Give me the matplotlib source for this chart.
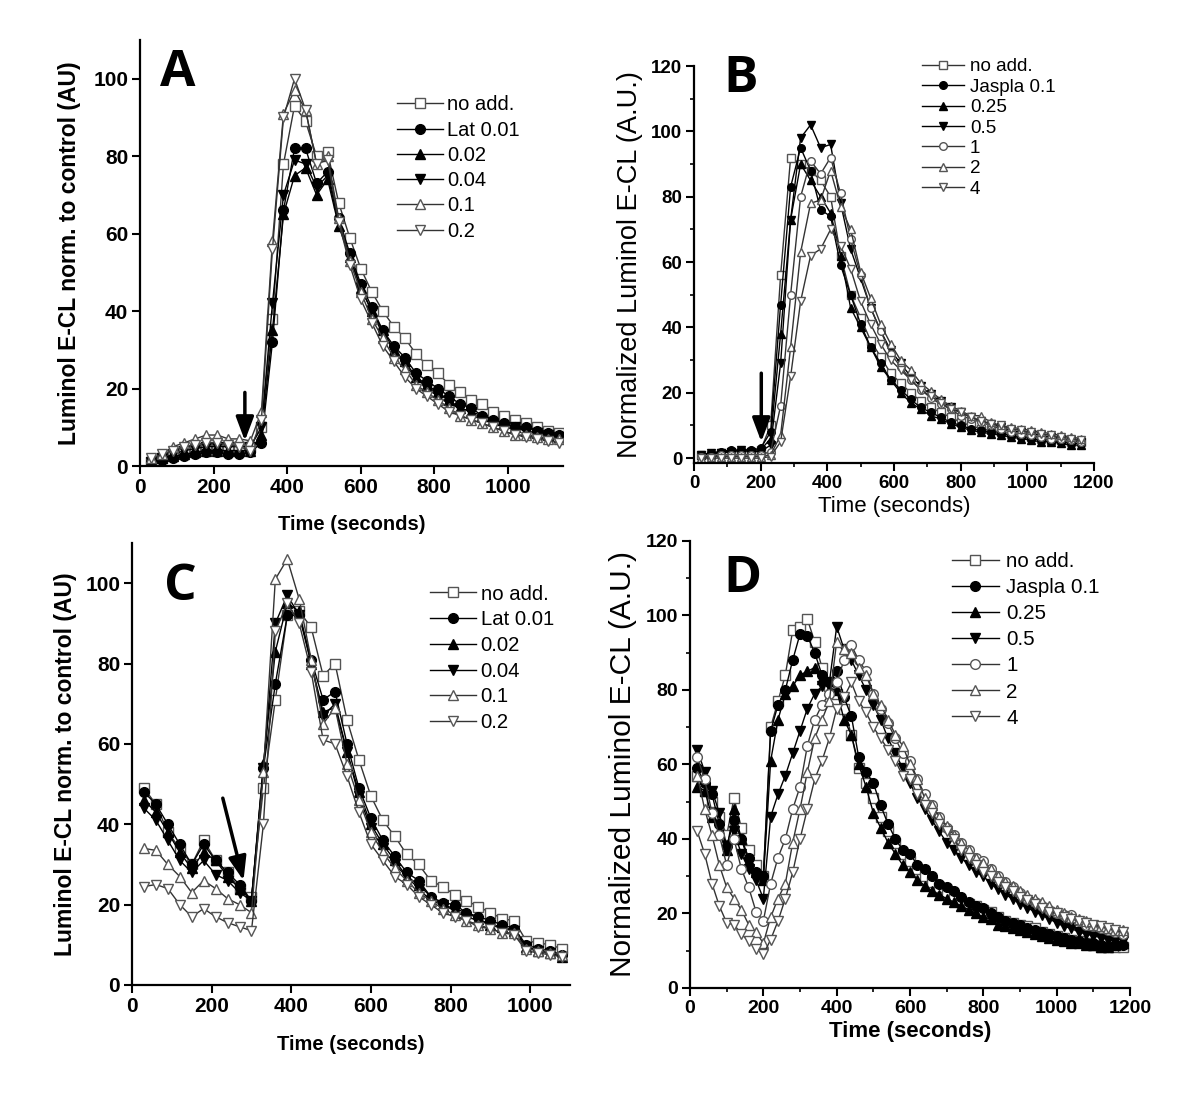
import matplotlib
matplotlib.use("Agg")
import matplotlib.pyplot as plt
from matplotlib.ticker import MultipleLocator

plt.rcParams['font.family'] = ['Liberation Sans', 'DejaVu Sans']

# ---------------- panel A: latrunculin, normalised to control ----------------
a_time = [30, 60, 90, 120, 150, 180, 210, 240, 270, 300,
          330, 360, 390, 420, 450, 480, 510, 540, 570, 600,
          630, 660, 690, 720, 750, 780, 810, 840, 870, 900,
          930, 960, 990, 1020, 1050, 1080, 1110, 1140]
a_noadd = [1, 2, 3, 4, 4, 5, 5, 5, 5, 5,
           10, 38, 78, 93, 89, 80, 81, 68, 59, 51,
           45, 40, 36, 33, 29, 26, 24, 21, 19, 17,
           16, 14, 13, 12, 11, 10, 9, 8.5]
a_lat001 = [1, 1.5, 2, 2.5, 3, 3.5, 3.5, 3, 3, 3.5,
            6, 32, 66, 82, 82, 73, 76, 64, 55, 47,
            41, 35, 31, 28, 24, 22, 20, 18, 16, 15,
            13, 12, 11, 10, 10, 9, 8.5, 8]
a_lat002 = [1, 2, 2.5, 3, 3.5, 4, 4, 4, 4, 4,
            8, 35, 65, 75, 77, 70, 74, 62, 54, 46,
            40, 35, 30, 27, 23, 21, 19, 17, 15, 14,
            13, 12, 11, 10, 9, 8.5, 8, 7.5]
a_lat004 = [1, 2, 3, 4, 4.5, 5, 5, 5, 5, 5,
            10, 42, 70, 79, 78, 72, 75, 63, 54, 46,
            40, 34, 30, 26, 23, 20, 18, 16, 15, 14,
            12, 11, 10, 10, 9, 8.5, 8, 7.5]
a_lat01 = [2, 3, 5, 6, 7, 8, 8, 7, 7, 6.5,
           14, 58, 91, 97, 92, 78, 80, 64, 53, 45,
           38, 33, 28, 25, 21, 19, 17, 15, 13, 12,
           11, 10, 9, 8, 8, 7.5, 7, 7]
a_lat02 = [2, 3, 4, 5, 5.5, 6, 6, 5.5, 5, 4,
           12, 56, 90, 100, 92, 78, 79, 63, 52, 43,
           37, 31, 27, 23, 20, 18, 16, 14, 13, 12,
           11, 10, 9, 8, 7.5, 7, 6.5, 6]
lat_labels = ['no add.', 'Lat 0.01', '0.02', '0.04', '0.1', '0.2']

# ---------------- panel B: jasplakinolide ----------------
b_time = [20, 50, 80, 110, 140, 170, 200, 230, 260, 290,
          320, 350, 380, 410, 440, 470, 500, 530, 560, 590,
          620, 650, 680, 710, 740, 770, 800, 830, 860, 890,
          920, 950, 980, 1010, 1040, 1070, 1100, 1130, 1160]
b_noadd = [1, 1, 1.5, 2, 2, 2, 2.5, 10, 56, 92,
           90, 88, 85, 80, 62, 50, 43, 36, 31, 26,
           23, 20, 17.5, 15.5, 14, 12.5, 11, 10, 9, 8.5,
           8, 7.5, 7, 6.5, 6, 5.5, 5.5, 5, 5]
b_jas01 = [1, 1.5, 2, 2.5, 2.5, 2.5, 3, 8, 47, 83,
           95, 88, 76, 74, 59, 50, 41, 34, 29, 24,
           21, 18, 15.5, 14, 12.5, 11, 10, 9, 8.5, 8,
           7.5, 7, 6.5, 6, 5.5, 5, 5, 4.5, 4.5]
b_jas025 = [1, 1.5, 2, 2, 2.5, 2.5, 2.5, 6, 38, 73,
            90, 85, 80, 75, 62, 46, 40, 34, 28, 24,
            20, 17, 15, 13, 12, 10.5, 9.5, 8.5, 8, 7.5,
            7, 6.5, 6, 5.5, 5, 5, 4.5, 4, 4]
b_jas05 = [1, 1.5, 1.5, 2, 2.5, 2, 2, 4, 29, 73,
           98, 102, 95, 96, 78, 64, 55, 46, 39, 33,
           29, 25, 22, 19.5, 17.5, 15.5, 14, 12.5, 11.5, 10.5,
           9.5, 8.5, 8, 7.5, 7, 6.5, 6, 5.5, 5]
b_jas1 = [0.5, 0.5, 1, 1, 1, 1, 1, 2, 16, 50,
          80, 91, 87, 92, 81, 67, 56, 46, 39, 32,
          28, 24, 21, 18.5, 16.5, 15, 13, 12, 11, 10,
          9, 8, 7.5, 7, 6.5, 6, 6, 5.5, 5]
b_jas2 = [0, 0.5, 0.5, 0.5, 0.5, 0.5, 0.5, 1, 7, 34,
          63, 78, 79, 88, 77, 70, 57, 49, 41, 35,
          30, 27, 23, 20.5, 18, 16, 14.5, 13, 13, 11,
          10, 9.5, 9, 8.5, 8, 7.5, 7, 6.5, 6]
b_jas4 = [0, 0, 0, 0, 0, 0, 0, 0.5, 5, 25,
          48, 62, 64, 70, 65, 58, 48, 41, 35, 30,
          27, 24, 21, 19, 17, 15, 14, 12.5, 11.5, 10.5,
          10, 9, 8.5, 8, 7.5, 7, 6.5, 6, 5.5]
jas_labels = ['no add.', 'Jaspla 0.1', '0.25', '0.5', '1', '2', '4']

# ---------------- panel C: latrunculin, second protocol ----------------
c_time = [30, 60, 90, 120, 150, 180, 210, 240, 270, 300,
          330, 360, 390, 420, 450, 480, 510, 540, 570, 600,
          630, 660, 690, 720, 750, 780, 810, 840, 870, 900,
          930, 960, 990, 1020, 1050, 1080]
c_noadd = [49, 45, 38, 34, 30, 36, 31, 28, 24, 22,
           49, 71, 92, 93, 89, 77, 80, 66, 56, 47,
           41, 37, 32.5, 30, 26, 24.5, 22.5, 21, 19.5, 18,
           16.5, 16, 11, 10.5, 10, 9]
c_lat001 = [48, 45, 40, 35, 30, 35, 31, 28, 25, 21,
            54, 75, 92, 92, 81, 71, 73, 60, 49, 41.5,
            36, 32, 28, 26, 22, 20.5, 20, 18, 17, 16,
            15, 14, 10, 9, 8.5, 7.5]
c_lat002 = [46, 43, 38, 33, 29, 33, 31, 27, 24, 21,
            55, 83, 95, 93, 80, 68, 69, 58, 48, 40,
            35, 31, 27, 25, 22, 20, 19, 18, 16.5, 15,
            14.5, 13.5, 9.5, 8.5, 8, 7]
c_lat004 = [44, 41, 36, 31, 28, 31, 27.5, 26, 23, 21,
            54, 90, 97, 92, 80, 67, 70, 58, 47, 39,
            34, 30, 27, 24, 21, 20, 18.5, 17, 16, 15,
            14, 13.5, 9.5, 8.5, 8, 7]
c_lat01 = [34, 33.5, 30, 27, 23, 26, 24, 21.5, 20, 18,
           53, 101, 106, 96, 81, 65, 69, 55, 46, 38,
           33, 29, 26, 23, 21, 19, 17.5, 16, 15, 14,
           13, 13, 9, 8.5, 8, 7.5]
c_lat02 = [24.5, 25, 24, 20, 17, 19, 17, 15.5, 14.5, 13.5,
           40, 88, 95, 90, 78, 61, 60, 52, 43, 35,
           31, 27, 25, 22, 20, 18, 17, 16, 14.5, 14,
           13, 12.5, 8.5, 8, 7.5, 7]

# ---------------- panel D: jasplakinolide, second protocol ----------------
d_time = [20, 40, 60, 80, 100, 120, 140, 160, 180, 200,
          220, 240, 260, 280, 300, 320, 340, 360, 380, 400,
          420, 440, 460, 480, 500, 520, 540, 560, 580, 600,
          620, 640, 660, 680, 700, 720, 740, 760, 780, 800,
          820, 840, 860, 880, 900, 920, 940, 960, 980, 1000,
          1020, 1040, 1060, 1080, 1100, 1120, 1140, 1160, 1180]
d_noadd = [57, 53, 50, 46, 41, 51, 43, 37, 33, 30,
           70, 77, 84, 96, 97, 99, 93, 86, 81, 79,
           75, 68, 59, 55, 51, 46, 42, 39, 36, 34,
           32, 30, 28.5, 27, 25.5, 24.5, 23, 22.5, 22, 21,
           20.5, 19, 18, 17.5, 17, 16.5, 16, 15, 14.5, 14,
           13.5, 13, 12.5, 12, 11.5, 11, 11, 11, 11]
d_jas01 = [59, 55, 52, 44, 38, 45, 40, 35, 31, 30,
           69, 76, 80, 88, 95, 94.5, 90, 84, 82, 85,
           78, 73, 62, 58, 55, 49, 44, 40, 37, 36,
           33, 32, 30, 28, 27, 26, 24.5, 23, 22, 21.5,
           20, 19, 18, 17.5, 17, 16, 15.5, 15, 14.5, 14,
           13.5, 13, 12.5, 12, 12, 11.5, 11, 11.5, 11.5]
d_jas025 = [54, 53, 46, 42, 37, 48, 40, 34, 31, 29,
            61, 72, 79, 81, 84, 85, 86, 83, 80, 80,
            72, 68, 60, 54, 47, 43, 39, 36, 33, 31,
            29, 27.5, 26, 25, 24, 23, 22, 21, 20, 19,
            18.5, 17, 16.5, 16, 15.5, 15, 14.5, 14, 13.5, 13,
            12.5, 12, 12, 11.5, 11.5, 11, 11, 11.5, 12]
d_jas05 = [64, 58, 53, 47, 38, 42, 36, 32, 29, 24,
           46, 52, 57, 63, 69, 75, 79, 81, 82, 97,
           91, 88, 84, 80, 76, 72, 67, 63, 59, 55,
           51, 48, 45, 42, 39, 37, 35, 33, 31, 30,
           28, 26.5, 25, 24, 22.5, 21.5, 20.5, 19.5, 18.5, 17.5,
           16.5, 16, 15, 14.5, 14, 13.5, 13, 12.5, 12.5]
d_jas1 = [62, 56, 47, 41, 33, 40, 32, 27, 20.5, 18,
          28, 35, 40, 48, 54, 65, 72, 76, 79, 82,
          88, 92, 88, 85, 79, 75, 71, 67, 63, 61,
          56, 52, 49, 46, 43, 41, 39, 37, 35, 34,
          32, 30, 28.5, 27, 25.5, 24, 23, 22, 21, 20,
          19.5, 19.5, 18, 17, 16.5, 16, 15.5, 15, 14.5]
d_jas2 = [57, 48, 41, 33, 27, 24, 21, 17, 15, 12,
          19, 24, 28, 39, 48, 58, 67, 72, 77, 93,
          91, 90, 86, 84, 79, 76, 72, 68, 65, 60,
          56, 51, 49, 46, 43.5, 41, 39, 37, 35, 33.5,
          32, 30, 28.5, 27.5, 26, 25, 24, 23, 22, 21,
          20, 19, 18.5, 18, 17, 16.5, 16, 15.5, 15.5]
d_jas4 = [42, 36, 28, 22, 17.5, 17, 14.5, 12.5, 10.5, 9,
          13, 18, 24, 31, 40, 48, 56, 61, 67, 75,
          78, 82, 77, 74, 70, 67, 64, 61, 57, 56,
          52, 49, 47, 44, 42, 40, 37, 35, 33, 31,
          30, 28.5, 27, 26, 24.5, 23.5, 22.5, 21.5, 20.5, 20,
          19, 18.5, 18, 17.5, 17, 16.5, 16, 15.5, 15]

GREY = '#555555'
# (marker, filled?) for each legend slot
LAT_STYLE = [('s', False), ('o', True), ('^', True), ('v', True), ('^', False), ('v', False)]
JAS_STYLE = [('s', False), ('o', True), ('^', True), ('v', True), ('o', False), ('^', False), ('v', False)]
ARROW = dict(arrowstyle='-|>,head_width=0.45,head_length=1.2', lw=2.5, color='black',
             shrinkA=0, shrinkB=0, mutation_scale=12)


def draw_series(ax, t, series, labels, styles, ms):
    for y, lab, (mk, filled) in zip(series, labels, styles):
        if filled:
            ax.plot(t, y, color='black', lw=1.0, marker=mk, ms=ms,
                    mfc='black', mec='black', mew=1.0, label=lab)
        else:
            ax.plot(t, y, color='#333333', lw=1.0, marker=mk, ms=ms,
                    mfc='white', mec=GREY, mew=1.0, label=lab)


def style_axes(ax, xmax, ymin, ymax, yticks, minor, tick_fs):
    ax.set_xlim(0, xmax)
    ax.set_ylim(ymin, ymax)
    ax.set_yticks(yticks)
    ax.xaxis.set_major_locator(MultipleLocator(200))
    if minor:
        ax.xaxis.set_minor_locator(MultipleLocator(100))
        ax.yaxis.set_minor_locator(MultipleLocator(10))
    for s in ['top', 'right']:
        ax.spines[s].set_visible(False)
    for s in ['left', 'bottom']:
        ax.spines[s].set_linewidth(1.6)
    ax.tick_params(which='major', direction='out', length=5.5, width=1.5, labelsize=tick_fs, pad=3)
    ax.tick_params(which='minor', direction='out', length=3, width=1.2)
    for lab in ax.get_xticklabels() + ax.get_yticklabels():
        lab.set_fontweight('bold')


def add_legend(ax, x, y, fs, spacing, hlen, hpad):
    ax.legend(loc='upper left', bbox_to_anchor=(x, y), frameon=False, fontsize=fs,
              handlelength=hlen, handletextpad=hpad, labelspacing=spacing,
              borderpad=0, borderaxespad=0)


fig = plt.figure(figsize=(12, 10.97), dpi=100)

axA = fig.add_axes([0.1167, 0.5752, 0.3525, 0.3883])
axB = fig.add_axes([0.5783, 0.5779, 0.3333, 0.3619])
axC = fig.add_axes([0.1100, 0.1021, 0.3650, 0.4029])
axD = fig.add_axes([0.5750, 0.0994, 0.3667, 0.4075])

# A
draw_series(axA, a_time, [a_noadd, a_lat001, a_lat002, a_lat004, a_lat01, a_lat02],
            lat_labels, LAT_STYLE, 7)
style_axes(axA, 1150, 0, 110, [0, 20, 40, 60, 80, 100], False, 15)
axA.set_xlabel('Time (seconds)', fontsize=14.5, fontweight='bold', labelpad=13)
axA.set_ylabel('Luminol E-CL norm. to control (AU)', fontsize=16.5, fontweight='bold', labelpad=9)
axA.annotate('', xy=(285, 6.5), xytext=(285, 19), arrowprops=ARROW)
add_legend(axA, 0.607, 0.87, 14.5, 0.31, 2.28, 0.23)
fig.text(0.133, 0.933, 'A', fontsize=37, fontweight='bold', family='Open Sans', va='center')

# B
draw_series(axB, b_time, [b_noadd, b_jas01, b_jas025, b_jas05, b_jas1, b_jas2, b_jas4],
            jas_labels, JAS_STYLE, 5.5)
style_axes(axB, 1200, -1.5, 120, [0, 20, 40, 60, 80, 100, 120], True, 13.5)
axB.set_xlabel('Time (seconds)', fontsize=16, labelpad=3)
axB.set_ylabel('Normalized Luminol E-CL (A.U.)', fontsize=19.5, labelpad=6)
axB.annotate('', xy=(202, 5), xytext=(202, 26), arrowprops=ARROW)
add_legend(axB, 0.57, 1.02, 13.6, 0.17, 2.25, 0.3)
fig.text(0.603, 0.928, 'B', fontsize=37, fontweight='bold', family='Open Sans', va='center')

# C
draw_series(axC, c_time, [c_noadd, c_lat001, c_lat002, c_lat004, c_lat01, c_lat02],
            lat_labels, LAT_STYLE, 7)
style_axes(axC, 1100, 0, 110, [0, 20, 40, 60, 80, 100], False, 15)
axC.set_xlabel('Time (seconds)', fontsize=14.5, fontweight='bold', labelpad=14)
axC.set_ylabel('Luminol E-CL norm. to control (AU)', fontsize=16.5, fontweight='bold', labelpad=6)
axC.annotate('', xy=(280, 26), xytext=(228, 46.5), arrowprops=ARROW)
add_legend(axC, 0.68, 0.906, 14.6, 0.33, 2.28, 0.23)
fig.text(0.137, 0.465, 'C', fontsize=37, fontweight='bold', family='Open Sans', va='center')

# D
draw_series(axD, d_time, [d_noadd, d_jas01, d_jas025, d_jas05, d_jas1, d_jas2, d_jas4],
            jas_labels, JAS_STYLE, 7)
style_axes(axD, 1200, 0, 120, [0, 20, 40, 60, 80, 100, 120], True, 14)
axD.set_xlabel('Time (seconds)', fontsize=16, fontweight='bold', labelpad=3)
axD.set_ylabel('Normalized Luminol E-CL (A.U.)', fontsize=21.5, labelpad=6)
add_legend(axD, 0.595, 0.975, 14.8, 0.345, 2.28, 0.37)
fig.text(0.603, 0.472, 'D', fontsize=37, fontweight='bold', family='Open Sans', va='center')

fig.savefig('out.png', dpi=100)
